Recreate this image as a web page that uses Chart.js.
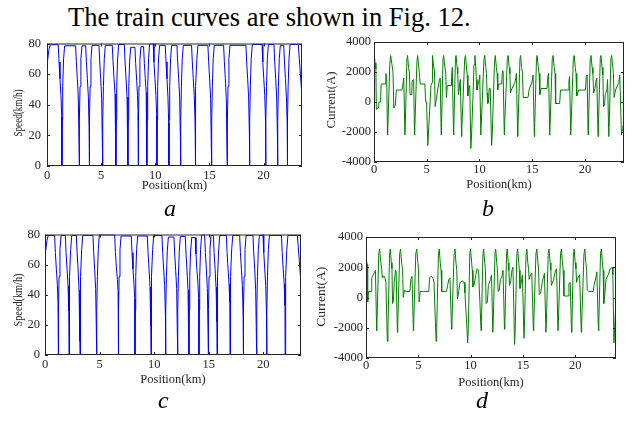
<!DOCTYPE html>
<html lang="en">
<head>
<meta charset="UTF-8">
<title>Train curves</title>
<script src="https://cdn.jsdelivr.net/npm/chart.js"></script>
<style>
    body {
        margin: 0;
        width: 632px;
        height: 421px;
        position: relative;
        overflow: hidden;
        background: #fff;
        font-family: 'Liberation Serif', 'Times New Roman', serif;
    }
    .caption {
        position: absolute;
        left: 68px;
        top: 1px;
        font-size: 26.5px;
        line-height: 32px;
        white-space: nowrap;
        color: #000;
    }
    .tag {
        position: absolute;
        font-style: italic;
        font-size: 24px;
        line-height: 24px;
        color: #000;
    }
    canvas { position: absolute; }
</style>
</head>
<body>

<div class="caption">The train curves are shown in Fig. 12.</div>

<canvas id="speedA"></canvas>
<canvas id="currentB"></canvas>
<canvas id="speedC"></canvas>
<canvas id="currentD"></canvas>

<div class="tag" style="left:164px; top:196px;">a</div>
<div class="tag" style="left:482px; top:196px;">b</div>
<div class="tag" style="left:158px; top:388px;">c</div>
<div class="tag" style="left:476px; top:388px;">d</div>

<script>
// [position km, speed km/h]
const speedA = [
    [0,0],[0,56],[0.08,68],[0.18,76],[0.3,79.2],
    [1.04,79.2],[1.11,68],[1.2,57],[1.29,46],[1.36,32],[1.38,0],[1.4,30],[1.45,52],[1.53,70],[1.63,78.5],
    [2.64,78.5],[2.71,68],[2.8,57],[2.89,45],[2.96,14],[2.98,0],[3.0,30],[3.05,52],[3.13,70],[3.23,78.5],
    [3.57,78.5],[3.64,68],[3.73,57],[3.82,45],[3.89,25],[3.91,0],[3.93,30],[3.98,52],[4.06,70],[4.16,78.8],
    [4.8,78.8],[4.87,68],[4.96,57],[5.05,44],[5.12,10],[5.14,0],[5.16,30],[5.21,52],[5.29,70],[5.39,78.8],
    [6.03,78.8],[6.1,68],[6.19,57],[6.28,47],[6.35,37],[6.37,0],[6.39,30],[6.44,52],[6.52,70],[6.62,79.4],
    [7.14,79.4],[7.21,68],[7.3,57],[7.39,45],[7.46,20],[7.48,0],[7.5,30],[7.55,52],[7.63,68],[7.73,77.5],
    [8.12,77.5],[8.19,67],[8.28,56],[8.36,46],[8.41,35],[8.43,0],[8.45,30],[8.5,52],[8.58,69],[8.68,78],
    [8.92,78],[8.99,67],[9.08,57],[9.16,48],[9.21,40],[9.23,0],[9.25,30],[9.3,52],[9.38,70],[9.48,79.8],
    [9.81,79.8],[9.88,68],[9.97,57],[10.06,46],[10.13,33],[10.15,0],[10.17,30],[10.22,52],[10.3,70],[10.4,78.8],
    [10.92,78.8],[10.99,68],[11.08,57],[11.17,45],[11.24,28],[11.26,0],[11.28,30],[11.33,52],[11.41,70],[11.51,78.8],
    [12.0,78.8],[12.07,68],[12.16,57],[12.25,45],[12.32,18],[12.34,0],[12.36,30],[12.41,52],[12.49,70],[12.59,78.8],
    [13.35,78.8],[13.42,68],[13.51,57],[13.6,46],[13.67,30],[13.69,0],[13.71,30],[13.76,52],[13.84,70],[13.94,78.8],
    [14.86,78.8],[14.93,68],[15.02,57],[15.11,44],[15.18,12],[15.2,0],[15.22,30],[15.27,52],[15.35,70],[15.45,78.8],
    [16.31,78.8],[16.38,68],[16.47,57],[16.56,44],[16.63,5],[16.65,0],[16.67,30],[16.72,52],[16.8,70],[16.9,78.8],
    [18.37,78.8],[18.44,68],[18.53,57],[18.62,45],[18.69,21],[18.71,0],[18.73,30],[18.78,52],[18.86,70],[18.96,79.4],
    [19.86,79.4],[19.93,68],[20.02,57],[20.11,46],[20.18,30],[20.2,0],[20.22,30],[20.27,52],[20.35,70],[20.45,79.4],
    [20.96,79.4],[21.03,68],[21.12,57],[21.21,45],[21.28,20],[21.3,0],[21.32,30],[21.37,52],[21.45,70],[21.55,78.8],
    [21.86,78.8],[21.93,68],[22.02,57],[22.11,45],[22.18,28],[22.2,0],[22.22,30],[22.27,52],[22.35,70],[22.45,79.4],
    [23.21,79.4],[23.3,70],[23.4,60],[23.5,50],[23.55,40]
];

// [position km, current A]
const currentB = [
    [0,2400],[0.02,3200],[0.1,2600],[0.18,2200],[0.22,-500],[0.42,-400],[0.48,0],[0.62,0],[0.68,1200],[1.08,1200],[1.12,1900],[1.2,1700],[1.28,-2200],
    [1.31,-1800],[1.5,2600],[1.58,3100],[1.7,2500],[1.8,2000],[1.88,-400],[2.02,-200],[2.12,800],[2.65,800],[2.72,1100],[2.82,1600],[2.93,-2200],
    [2.96,-1700],[3.12,2800],[3.18,3100],[3.28,2300],[3.35,2000],[3.42,500],[3.58,500],[3.62,1400],[3.76,1500],[3.84,-2200],
    [3.87,-1700],[4.07,2700],[4.14,3100],[4.26,2200],[4.32,1700],[4.38,1200],[4.82,1200],[4.9,0],[4.98,0],[5.1,-2900],
    [5.4,1100],[5.5,1300],[5.54,3100],[5.65,2400],[5.73,2100],[5.8,-300],[5.9,200],[5.95,400],[6.2,1500],[6.28,1600],[6.37,-2200],
    [6.4,-1700],[6.54,2800],[6.6,3100],[6.72,2300],[6.8,2000],[6.86,300],[6.95,1100],[7.3,1100],[7.35,1700],[7.42,2300],[7.54,-2200],
    [7.57,-1600],[7.72,2900],[7.78,3100],[7.88,2300],[7.94,1900],[8.0,500],[8.06,800],[8.18,1500],[8.3,-2300],
    [8.33,-1700],[8.6,2900],[8.68,3100],[8.78,2200],[8.84,1800],[8.9,400],[8.98,900],[9.08,1100],[9.18,-3100],
    [9.25,-2200],[9.38,300],[9.48,2500],[9.56,3100],[9.66,2200],[9.7,1500],[9.76,800],[9.96,1500],[10.02,1800],[10.13,-2200],
    [10.16,-1600],[10.42,2800],[10.5,3100],[10.6,2300],[10.66,1900],[10.72,600],[10.78,-100],[10.86,0],[10.92,900],[11.02,900],[11.15,-2900],
    [11.22,-2000],[11.42,2600],[11.5,3100],[11.6,2300],[11.67,1900],[11.73,800],[11.8,1200],[12.1,1200],[12.18,2100],[12.24,2000],[12.35,-2200],
    [12.38,-1600],[12.64,2900],[12.72,3100],[12.82,2300],[12.88,1900],[12.94,600],[13.02,800],[13.35,1300],[13.45,1600],[13.5,1900],[13.62,-2300],
    [13.65,-1700],[13.84,2900],[13.9,3100],[14.0,2300],[14.08,1900],[14.14,300],[14.6,300],[14.7,800],[15.0,1400],[15.08,1800],[15.2,-2300],
    [15.23,-1700],[15.4,2800],[15.46,3100],[15.58,2300],[15.65,1900],[15.72,500],[15.85,900],[16.4,900],[16.48,1700],[16.55,1900],[16.66,-2200],
    [16.69,-1600],[16.9,2900],[16.98,3100],[17.08,2300],[17.16,1900],[17.22,-100],[17.6,-100],[17.68,800],[18.4,800],[18.48,1400],[18.54,1700],[18.65,-2200],
    [18.68,-1600],[18.9,2900],[18.98,3100],[19.08,2300],[19.15,1900],[19.22,400],[19.4,800],[20.05,800],[20.12,1700],[20.2,1800],[20.3,-2200],
    [20.33,-1600],[20.5,2900],[20.57,3100],[20.68,2300],[20.75,1900],[20.82,600],[20.95,900],[21.06,1500],[21.12,1600],[21.24,-2300],
    [21.27,-1700],[21.45,2900],[21.52,3100],[21.62,2300],[21.7,1800],[21.76,-300],[21.86,-200],[21.92,500],[22.08,800],[22.14,1500],[22.26,-2300],
    [22.29,-1700],[22.46,2900],[22.53,3100],[22.64,2300],[22.7,1900],[22.76,300],[22.9,800],[23.2,1300],[23.3,1800],[23.46,-2200],
    [23.52,-1900],[23.6,-1600],[23.7,-1500]
];

const speedC = [
    [0,0],[0,57],[0.08,68],[0.18,76],[0.3,79.4],
    [0.88,79.4],[0.95,68],[1.04,57],[1.13,47],[1.2,33],[1.22,0],[1.24,30],[1.29,52],[1.37,70],[1.47,79.4],
    [1.86,79.4],[1.93,68],[2.02,57],[2.11,46],[2.18,29],[2.2,0],[2.22,30],[2.27,52],[2.35,70],[2.45,79.4],
    [2.87,79.4],[2.94,68],[3.03,57],[3.12,43],[3.19,9],[3.21,0],[3.23,30],[3.28,52],[3.36,70],[3.46,79.4],
    [4.39,79.4],[4.46,68],[4.55,57],[4.64,44],[4.71,14],[4.73,0],[4.75,30],[4.8,52],[4.88,70],[4.98,79.8],
    [6.38,79.8],[6.45,68],[6.54,58],[6.63,50],[6.7,42],[6.72,0],[6.74,30],[6.79,52],[6.87,70],[6.97,79],
    [7.9,79],[7.97,68],[8.06,57],[8.15,47],[8.22,37],[8.24,0],[8.26,30],[8.31,52],[8.39,70],[8.49,79],
    [9.37,79],[9.44,68],[9.53,57],[9.62,45],[9.69,19],[9.71,0],[9.73,30],[9.78,52],[9.86,70],[9.96,79.4],
    [10.71,79.4],[10.78,68],[10.87,57],[10.96,46],[11.03,26],[11.05,0],[11.07,30],[11.12,52],[11.2,69],[11.3,78.3],
    [11.81,78.3],[11.88,67],[11.97,56],[12.06,44],[12.13,12],[12.15,0],[12.17,30],[12.22,52],[12.3,69],[12.4,78.7],
    [12.85,78.7],[12.92,67],[13.01,56],[13.1,43],[13.17,4],[13.19,0],[13.21,30],[13.26,52],[13.34,69],[13.44,78],
    [13.76,78],[13.83,67],[13.92,56],[14.01,47],[14.08,37],[14.1,0],[14.12,30],[14.17,52],[14.25,70],[14.35,79.8],
    [14.62,79.8],[14.69,68],[14.78,57],[14.87,44],[14.94,14],[14.96,0],[14.98,30],[15.03,52],[15.11,70],[15.21,79.4],
    [15.42,79.4],[15.49,68],[15.58,57],[15.67,45],[15.74,22],[15.76,0],[15.78,30],[15.83,52],[15.91,70],[16.01,79.4],
    [16.61,79.4],[16.68,68],[16.77,57],[16.86,47],[16.93,35],[16.95,0],[16.97,30],[17.02,52],[17.1,70],[17.2,79.4],
    [17.83,79.4],[17.9,68],[17.99,57],[18.08,46],[18.15,25],[18.17,0],[18.19,30],[18.24,52],[18.32,70],[18.42,79.4],
    [19.05,79.4],[19.12,68],[19.21,57],[19.3,43],[19.37,8],[19.39,0],[19.41,30],[19.46,52],[19.54,70],[19.64,79.4],
    [19.97,79.4],[20.04,68],[20.13,57],[20.22,46],[20.29,26],[20.31,0],[20.33,30],[20.38,52],[20.46,70],[20.56,79.4],
    [21.66,79.4],[21.73,68],[21.82,57],[21.91,47],[21.98,33],[22.0,0],[22.02,30],[22.07,52],[22.15,70],[22.25,79.4],
    [23.11,79.4],[23.2,72],[23.3,62],[23.4,52],[23.45,38]
];

const currentD = [
    [0,2600],[0.02,3200],[0.08,2400],[0.12,2200],[0.16,-300],[0.24,400],[0.5,400],[0.55,1300],[0.7,1500],[0.9,1800],[1.02,-2200],
    [1.05,-1700],[1.22,2900],[1.3,3200],[1.42,2300],[1.5,1900],[1.56,1300],[1.62,1400],[1.78,1400],[1.9,1000],[2.04,-2900],
    [2.1,-2000],[2.25,2800],[2.32,3200],[2.42,2300],[2.48,1900],[2.54,-400],[2.62,-200],[2.7,1000],[2.82,1800],[2.88,1700],[3.0,-2300],
    [3.04,-1700],[3.22,2900],[3.3,3200],[3.42,2200],[3.5,1800],[3.56,0],[3.68,500],[3.78,400],[4.2,400],[4.28,1200],[4.4,1400],[4.53,-2200],
    [4.56,-1700],[4.76,2900],[4.85,3200],[4.96,2300],[5.02,1800],[5.08,-300],[5.18,400],[6.0,400],[6.08,1300],[6.2,1400],[6.4,1300],[6.5,1000],[6.7,-2900],
    [6.76,-2000],[6.92,2800],[7.0,3200],[7.1,2300],[7.18,1800],[7.24,400],[7.7,400],[7.8,800],[7.92,1200],[8.02,1300],[8.18,-2100],
    [8.22,-1600],[8.42,2900],[8.5,3200],[8.6,2300],[8.68,1800],[8.74,-100],[8.86,400],[9.0,1000],[9.2,1100],[9.38,1000],[9.46,300],[9.72,-3000],
    [9.78,-2100],[9.92,2900],[9.99,3200],[10.1,2300],[10.16,1800],[10.22,700],[10.32,800],[10.5,1500],[10.62,1900],[10.76,1800],[11.0,-2200],
    [11.04,-1600],[11.18,2900],[11.25,3200],[11.35,2300],[11.42,1800],[11.48,-400],[11.6,-300],[11.7,800],[11.9,1200],[12.0,1500],[12.12,-2300],
    [12.16,-1700],[12.33,2900],[12.4,3200],[12.5,2300],[12.57,1800],[12.63,400],[12.75,500],[12.85,1200],[13.0,1400],[13.1,1800],[13.24,-2100],
    [13.28,-1600],[13.44,2900],[13.5,3200],[13.6,2300],[13.66,1800],[13.72,800],[13.82,1000],[13.95,1800],[14.05,2000],[14.2,-3100],
    [14.26,-2200],[14.42,2900],[14.5,3200],[14.6,2300],[14.66,1800],[14.72,600],[14.85,1000],[14.95,1500],[15.1,-2700],
    [15.15,-1900],[15.3,2900],[15.37,3200],[15.47,2300],[15.54,1900],[15.6,1200],[15.72,1500],[15.85,1600],[16.0,-2200],
    [16.04,-1600],[16.25,2900],[16.33,3200],[16.44,2300],[16.5,1800],[16.56,200],[16.7,300],[16.85,1000],[16.98,1400],[17.06,1600],[17.2,-2300],
    [17.24,-1700],[17.42,2900],[17.5,3200],[17.6,2300],[17.67,1800],[17.72,800],[17.9,1100],[18.12,1800],[18.22,1900],[18.35,-2200],
    [18.39,-1600],[18.6,2900],[18.68,3200],[18.78,2300],[18.85,1800],[18.92,100],[19.32,100],[19.4,900],[19.52,1000],[19.65,-2300],
    [19.69,-1700],[19.83,2900],[19.9,3200],[20.0,2300],[20.07,1900],[20.13,1000],[20.25,1300],[20.42,1500],[20.58,-2300],
    [20.62,-1700],[20.84,2900],[20.92,3200],[21.02,2300],[21.09,1800],[21.15,500],[21.3,400],[21.72,400],[21.8,800],[21.97,1300],[22.07,1700],[22.22,-2200],
    [22.26,-1600],[22.42,2900],[22.5,3200],[22.6,2300],[22.67,1800],[22.73,-400],[22.83,200],[22.95,1200],[23.15,1500],[23.35,1900],[23.55,2000],[23.6,1500],[23.7,-3000],
    [23.78,-2000],[23.9,0]
];

const SERIF = "'Liberation Serif', 'Times New Roman', serif";
const INK = '#262626';

// box outline with inward ticks on all four sides
const frame = {
    id: 'frame',
    afterDraw(chart) {
        const { ctx, chartArea: a, scales: { x, y } } = chart;
        const tl = 3;
        ctx.save();
        ctx.strokeStyle = INK;
        ctx.lineWidth = 1;
        ctx.beginPath();
        x.ticks.forEach(t => {
            const px = Math.round(x.getPixelForValue(t.value)) + 0.5;
            ctx.moveTo(px, a.bottom); ctx.lineTo(px, a.bottom - tl);
            ctx.moveTo(px, a.top); ctx.lineTo(px, a.top + tl);
        });
        y.ticks.forEach(t => {
            const py = Math.round(y.getPixelForValue(t.value)) + 0.5;
            ctx.moveTo(a.left, py); ctx.lineTo(a.left + tl, py);
            ctx.moveTo(a.right, py); ctx.lineTo(a.right - tl, py);
        });
        ctx.stroke();
        ctx.strokeRect(a.left + 0.5, a.top + 0.5, a.right - a.left - 1, a.bottom - a.top - 1);
        ctx.restore();
    }
};

// rotated y-axis label, stretched or squeezed to a given length
const yLabel = {
    id: 'yLabel',
    afterDraw(chart, args, o) {
        const ctx = chart.ctx;
        ctx.save();
        ctx.font = '12.5px ' + SERIF;
        ctx.fillStyle = INK;
        ctx.textAlign = 'center';
        ctx.textBaseline = 'middle';
        ctx.translate(o.x, o.y);
        ctx.rotate(-Math.PI / 2);
        ctx.scale(o.length / ctx.measureText(o.text).width, 1);
        ctx.fillText(o.text, 0, 0);
        ctx.restore();
    }
};

function makePanel(o) {
    const el = document.getElementById(o.id);
    const [cl, ct, cw, ch] = o.box;
    const [pl, pt, pr, pb] = o.plot;
    el.width = cw;
    el.height = ch;
    el.style.left = cl + 'px';
    el.style.top = ct + 'px';

    return new Chart(el, {
        type: 'line',
        data: {
            datasets: [{
                data: o.data.map(p => ({ x: p[0], y: p[1] })),
                borderColor: o.color,
                borderWidth: 1,
                pointRadius: 0,
                tension: 0,
                fill: false
            }]
        },
        options: {
            responsive: false,
            animation: false,
            devicePixelRatio: 1,
            layout: { padding: { left: 0, top: pt - ct, right: cl + cw - pr, bottom: 0 } },
            plugins: {
                legend: { display: false },
                tooltip: { enabled: false },
                yLabel: o.yLabel
            },
            scales: {
                x: {
                    type: 'linear',
                    min: 0,
                    max: o.xMax,
                    border: { display: false },
                    grid: { display: false, drawTicks: false },
                    ticks: {
                        stepSize: 5,
                        includeBounds: false,
                        autoSkip: false,
                        maxRotation: 0,
                        padding: o.xPad,
                        color: INK,
                        font: { family: SERIF, size: 12.5 },
                        callback: v => String(v)
                    },
                    title: {
                        display: true,
                        text: 'Position(km)',
                        color: INK,
                        font: { family: SERIF, size: 12.5, lineHeight: 1 },
                        padding: { top: 0, bottom: o.xTitlePad }
                    },
                    afterFit: s => { s.height = ct + ch - pb; }
                },
                y: {
                    min: o.yMin,
                    max: o.yMax,
                    border: { display: false },
                    grid: { display: false, drawTicks: false },
                    ticks: {
                        stepSize: o.yStep,
                        padding: o.yPad,
                        color: INK,
                        font: { family: SERIF, size: 12.5 },
                        callback: v => String(v)
                    },
                    afterFit: s => { s.width = pl - cl; }
                }
            }
        },
        plugins: [frame, yLabel]
    });
}

makePanel({
    id: 'speedA', data: speedA, color: '#0000ff',
    box: [0, 30, 316, 166], plot: [47, 38, 302, 166],
    xMax: 23.55, yMin: 0, yMax: 80, yStep: 20, xPad: 2, yPad: 6, xTitlePad: 3.75,
    yLabel: { text: 'Speed(km/h)', x: 19, y: 83, length: 47 }
});

makePanel({
    id: 'currentB', data: currentB, color: '#008000',
    box: [310, 30, 322, 166], plot: [374, 42, 624, 162],
    xMax: 23.7, yMin: -4000, yMax: 4000, yStep: 2000, xPad: 0, yPad: 3, xTitlePad: 4.75,
    yLabel: { text: 'Current(A)', x: 21.3, y: 70, length: 57 }
});

makePanel({
    id: 'speedC', data: speedC, color: '#0000ff',
    box: [0, 222, 316, 170], plot: [45, 232, 301, 355],
    xMax: 23.45, yMin: 0, yMax: 80, yStep: 20, xPad: 2.5, yPad: 5, xTitlePad: 6.5,
    yLabel: { text: 'Speed(km/h)', x: 18.7, y: 78, length: 53 }
});

makePanel({
    id: 'currentD', data: currentD, color: '#008000',
    box: [310, 222, 322, 170], plot: [366, 237, 616, 358],
    xMax: 23.9, yMin: -4000, yMax: 4000, yStep: 2000, xPad: 0, yPad: 3, xTitlePad: 3.25,
    yLabel: { text: 'Current(A)', x: 11.7, y: 74.7, length: 60 }
});
</script>

</body>
</html>
